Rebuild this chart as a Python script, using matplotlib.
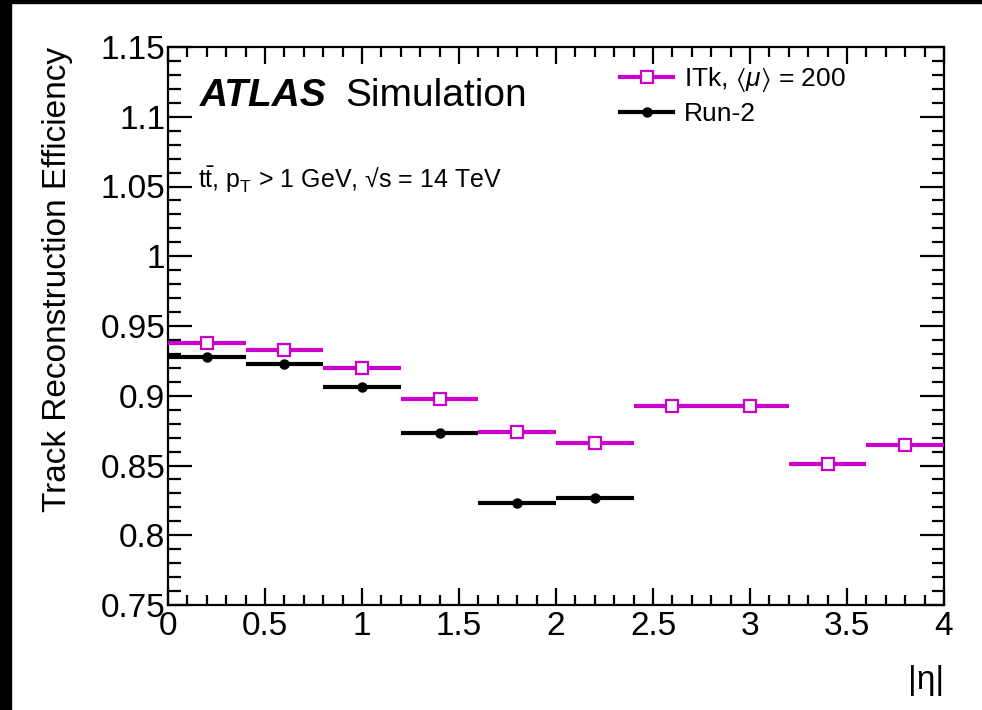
import matplotlib
matplotlib.use('Agg')
import matplotlib.pyplot as plt
from matplotlib.lines import Line2D
from matplotlib.patches import Rectangle
from matplotlib.ticker import MultipleLocator
import numpy as np

plt.rcParams['font.family'] = ['Liberation Sans', 'DejaVu Sans']
plt.rcParams['mathtext.fontset'] = 'custom'
plt.rcParams['mathtext.rm'] = 'Liberation Sans'
plt.rcParams['mathtext.it'] = 'Liberation Sans:italic'
plt.rcParams['mathtext.fallback'] = 'stixsans'

# |eta| bins (width 0.4), efficiencies
itk_eta = [0.2, 0.6, 1.0, 1.4, 1.8, 2.2, 2.6, 3.0, 3.4, 3.8]
itk_eff = [0.938, 0.933, 0.920, 0.898, 0.874, 0.866, 0.893, 0.893, 0.851, 0.865]
run2_eta = [0.2, 0.6, 1.0, 1.4, 1.8, 2.2]
run2_eff = [0.928, 0.923, 0.906, 0.873, 0.823, 0.827]
bin_half = 0.2

magenta = '#cc00cc'

W, H = 982, 710
fig = plt.figure(figsize=(W / 100, H / 100), dpi=100)
ax = fig.add_axes([168 / W, 1 - 605 / H, (944 - 168) / W, (605 - 47) / H])

# Run-2 first, ITk on top
ax.errorbar(run2_eta, run2_eff, xerr=bin_half, fmt='o', color='black',
            ms=6.5, elinewidth=3, capsize=0, zorder=3)
ax.errorbar(itk_eta, itk_eff, xerr=bin_half, fmt='s', color=magenta,
            mfc='white', mec=magenta, mew=1.6, ms=8.5, elinewidth=3,
            capsize=0, zorder=4)

ax.set_xlim(0, 4)
ax.set_ylim(0.75, 1.15)
ax.xaxis.set_major_locator(MultipleLocator(0.5))
ax.xaxis.set_minor_locator(MultipleLocator(0.1))
ax.yaxis.set_major_locator(MultipleLocator(0.05))
ax.yaxis.set_minor_locator(MultipleLocator(0.01))
ax.xaxis.set_major_formatter(plt.FuncFormatter(lambda v, p: '%g' % v))
ax.yaxis.set_major_formatter(plt.FuncFormatter(lambda v, p: '%g' % round(v, 2)))

for s in ax.spines.values():
    s.set_linewidth(1.6)
ax.tick_params(which='both', direction='in', top=True, right=True, width=1.6)
ax.tick_params(axis='y', which='major', length=17, labelsize=24, pad=2)
ax.tick_params(axis='y', which='minor', length=9)
ax.tick_params(axis='x', which='major', length=12, labelsize=24, pad=4)
ax.tick_params(axis='x', which='minor', length=7.5)

ax.set_ylabel('Track Reconstruction Efficiency', fontsize=24, loc='top', va='center')
ax.yaxis.set_label_coords((58 - 168) / 776, 1.0)
ax.set_xlabel('|η|', fontsize=24, loc='right', va='center')
ax.xaxis.set_label_coords(1.0, (605 - 681) / 558)

# ATLAS label
fig.text(200 / W, 1 - 106 / H, 'ATLAS', fontsize=28, fontweight='bold',
         fontstyle='italic', va='baseline')
fig.text(345 / W, 1 - 106 / H, 'Simulation', fontsize=28, va='baseline')
fig.text(198 / W, 1 - 188 / H,
         r'$\mathrm{t}\bar{\mathrm{t}}$, p$_{\mathrm{T}}$ > 1 GeV, √s = 14 TeV',
         fontsize=18, va='baseline')

handles = [
    Line2D([], [], color=magenta, lw=3, marker='s', mfc='white', mec=magenta,
           mew=1.6, ms=8.5),
    Line2D([], [], color='black', lw=3, marker='o', ms=6.5),
]
labels = [r'ITk, $\langle\mu\rangle$ = 200', 'Run-2']
ax.legend(handles, labels, loc='upper left', bbox_to_anchor=(607 / W, 1 - 52 / H),
          bbox_transform=fig.transFigure, frameon=False, fontsize=19,
          handlelength=2.0, handletextpad=0.4, labelspacing=0.3, borderpad=0)

# black border strips of the screenshot
fig.patches.append(Rectangle((0, 0), 11 / W, 1, transform=fig.transFigure,
                             color='black', zorder=10))
fig.patches.append(Rectangle((0, 1 - 3 / H), 1, 3 / H, transform=fig.transFigure,
                             color='black', zorder=10))

fig.savefig('out.png', dpi=100)
